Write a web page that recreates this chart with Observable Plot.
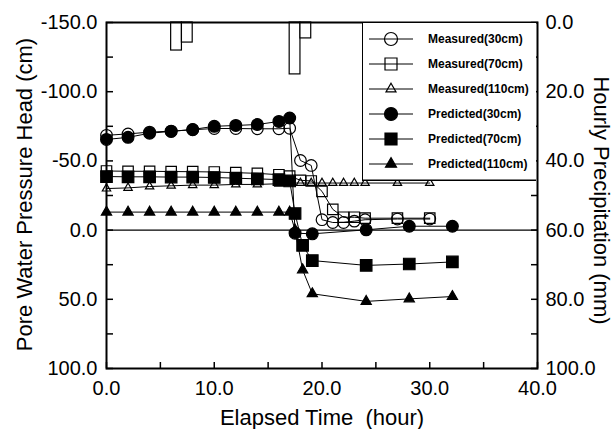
<!DOCTYPE html>
<html><head><meta charset="utf-8">
<script src="https://cdn.jsdelivr.net/npm/d3@7"></script>
<script src="https://cdn.jsdelivr.net/npm/@observablehq/plot@0.6"></script>
<style>
html,body{margin:0;padding:0;background:#fff;}
#wrap{position:relative;width:615px;height:429px;font-family:"Liberation Sans",Arial,sans-serif;}
#legend{position:absolute;left:362px;top:23px;}
</style></head>
<body><div id="wrap"><div id="chart"></div><svg id="legend" width="174" height="158"></svg></div>
<script>
// ---- data ----
const hoursMeasured = [0,2,4,6,8,10,12,14,16,17,18,19,20,21,22,23,24,27,30];
const measured30  = [-68.5,-69.5,-70.8,-71.5,-72.5,-73.4,-73.4,-73.2,-73.2,-73.6,-50.3,-46.7,-7.5,-5.5,-5.5,-6.5,-7.5,-8,-8];
const measured70  = [-42.7,-42.5,-42.5,-42.3,-42.2,-42,-41.5,-41,-40,-39,-36,-35.5,-28,-15,-9.3,-9.3,-8.6,-8.6,-8.6];
const measured110 = [-30,-30.5,-31.5,-32,-32.5,-32.5,-33,-33,-33.5,-34,-34,-34,-34,-34,-34,-34,-34,-34,-34];

const hoursPred30 = [0,2,4,6,8,10,12,14,16,17,17.5,19.1,24.1,28.1,32.1];
const predicted30 = [-65.5,-67,-70,-71.3,-72.7,-75,-75.6,-76.3,-78.5,-81,2.2,2.7,-0.2,-2.8,-2.8];
const hoursPred = [0,2,4,6,8,10,12,14,16,17,17.5,18.2,19.1,24.1,28.1,32.1];
const predicted70  = [-38.7,-38.5,-38.5,-38.3,-38.3,-38,-37.5,-37,-36.5,-35.5,-12,11,22,25.5,24.5,23];
const predicted110 = [-13,-13,-13,-13,-13,-13,-13,-13,-13,-13,0,28.7,46,51.5,49.7,48];

const rainStart = [6,7,17,18];
const rainEnd   = [7,8,18,19];
const rainMm    = [8.1,5.8,15.0,4.6];

const xTicks = [0,10,20,30,40];
const leftTicks = [-150,-100,-50,0,50,100];
const rightTickLabels = [0,20,40,60,80,100];

const seriesNames = ["Measured(30cm)","Measured(70cm)","Measured(110cm)","Predicted(30cm)","Predicted(70cm)","Predicted(110cm)"];
const xTitle = "Elapsed Time\u00a0 (hour)";
const yTitle = "Pore Water Pressure Head (cm)";
const y2Title = "Hourly Precipitation (mm)";

// ---- build tables ----
const toRows = (xs, ys) => xs.map((x, i) => ({x, y: ys[i]}));
const toPressure = mm => -150 + mm * 2.5; // right axis 0..100 mm maps onto -150..100
const rain = rainStart.map((s, i) => ({x1: s, x2: rainEnd[i], y1: toPressure(0), y2: toPressure(rainMm[i])}));

const series = [
  {rows: toRows(hoursMeasured, measured30),  symbol: "circle",   fill: "none",  r: 5.8},
  {rows: toRows(hoursMeasured, measured70),  symbol: "square",   fill: "none",  r: 5.9},
  {rows: toRows(hoursMeasured, measured110), symbol: "triangle", fill: "none",  r: 3.1},
  {rows: toRows(hoursPred30, predicted30),   symbol: "circle",   fill: "black", r: 5.9},
  {rows: toRows(hoursPred, predicted70),     symbol: "square",   fill: "black", r: 6.5},
  {rows: toRows(hoursPred, predicted110),    symbol: "triangle", fill: "black", r: 3.8}
];

const font = '"Liberation Sans", Arial, sans-serif';

const chart = Plot.plot({
  width: 615, height: 429,
  marginLeft: 106, marginRight: 78, marginTop: 22, marginBottom: 61,
  style: {fontFamily: font, background: "white", color: "black"},
  x: {domain: [0, 40]},
  y: {domain: [-150, 100], reverse: true},
  marks: [
    Plot.rect(rain, {x1: "x1", x2: "x2", y1: "y1", y2: "y2", fill: "white", stroke: "black", strokeWidth: 1.2}),
    Plot.ruleY([0], {stroke: "black", strokeWidth: 1.2}),
    ...series.map(s => Plot.line(s.rows, {x: "x", y: "y", stroke: "black", strokeWidth: 1})),
    ...series.map(s => Plot.dot(s.rows, {x: "x", y: "y", symbol: s.symbol, r: s.r, fill: s.fill, stroke: "black", strokeWidth: 1.2})),
    Plot.axisX(d3.range(0, 41, 5), {anchor: "bottom", tickSize: -6, fill: "none", label: null, strokeWidth: 1.5}),
    Plot.axisX(xTicks, {anchor: "bottom", tickFormat: d => d.toFixed(1), tickSize: 0, stroke: "none", tickPadding: 12, fontSize: 20, label: null}),
    Plot.axisY(d3.range(-150, 101, 25), {anchor: "left", tickSize: -7, fill: "none", label: null, strokeWidth: 1.5}),
    Plot.axisY(leftTicks, {anchor: "left", tickFormat: d => d.toFixed(1), tickSize: 0, stroke: "none", tickPadding: 9, fontSize: 20, label: null}),
    Plot.axisY(d3.range(-150, 101, 25), {anchor: "right", tickSize: -7, fill: "none", label: null, strokeWidth: 1.5}),
    Plot.axisY(leftTicks, {anchor: "right", tickFormat: d => rightTickLabels[leftTicks.indexOf(d)].toFixed(1), tickSize: 0, stroke: "none", tickPadding: 8, fontSize: 20, label: null}),
    Plot.frame({stroke: "black", strokeWidth: 2}),
    Plot.text([xTitle], {text: d => d, frameAnchor: "bottom", textAnchor: "middle", dy: 56, fontSize: 22}),
    Plot.text([yTitle], {text: d => d, frameAnchor: "left", textAnchor: "middle", dx: -82, dy: -1, rotate: -90, fontSize: 22}),
    Plot.text([y2Title], {text: d => d, frameAnchor: "right", textAnchor: "middle", dx: 64, dy: 5, rotate: 90, fontSize: 22})
  ]
});
document.getElementById("chart").appendChild(chart);

// ---- legend overlay ----
const leg = d3.select("#legend");
leg.append("rect").attr("x", 0).attr("y", 0).attr("width", 174).attr("height", 158).attr("fill", "white");
leg.append("line").attr("x1", 0.5).attr("x2", 0.5).attr("y1", 0).attr("y2", 158).attr("stroke", "black").attr("stroke-width", 1);
leg.append("line").attr("x1", 0).attr("x2", 174).attr("y1", 157.3).attr("y2", 157.3).attr("stroke", "black").attr("stroke-width", 1.4);
const legSym = [
  {type: d3.symbolCircle, size: Math.PI * 6.5 * 6.5, fill: "none"},
  {type: d3.symbolSquare, size: 12 * 12, fill: "none"},
  {type: d3.symbolTriangle, size: 10 * 10 * 0.433, fill: "none"},
  {type: d3.symbolCircle, size: Math.PI * 6.5 * 6.5, fill: "black"},
  {type: d3.symbolSquare, size: 12 * 12, fill: "black"},
  {type: d3.symbolTriangle, size: 11 * 11 * 0.433, fill: "black"}
];
seriesNames.forEach((name, i) => {
  const g = leg.append("g").attr("transform", `translate(0,${16 + i * 25})`);
  g.append("line").attr("x1", 7).attr("x2", 51).attr("stroke", "black").attr("stroke-width", 1);
  g.append("path").attr("transform", "translate(29,0)").attr("d", d3.symbol().type(legSym[i].type).size(legSym[i].size)())
    .attr("fill", legSym[i].fill).attr("stroke", "black").attr("stroke-width", 1.2);
  g.append("text").attr("x", 66).attr("dy", "0.35em").attr("font-size", 12).attr("font-weight", "bold")
    .attr("font-family", font).text(name);
});
</script>
</body></html>
